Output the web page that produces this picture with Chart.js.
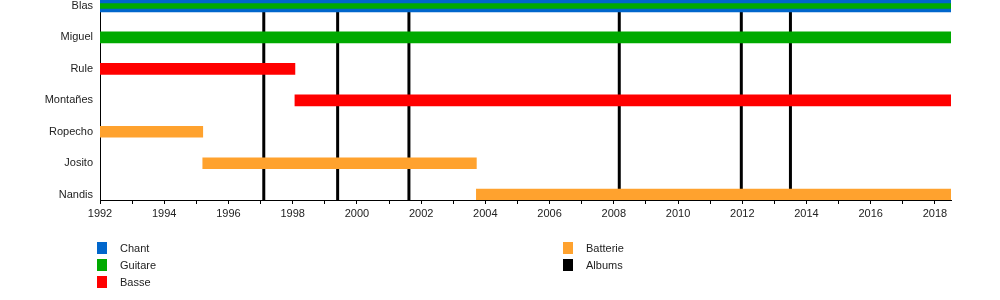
<!DOCTYPE html>
<html>
<head>
<meta charset="utf-8">
<script src="https://cdn.jsdelivr.net/npm/chart.js@4"></script>
<style>
	body { margin: 0; background: #fff; font-family: 'Liberation Sans', Arial, sans-serif; }
	#wrap { position: relative; width: 1000px; height: 300px; }
	.leg { position: absolute; font-size: 11px; color: #222; line-height: 12px; }
	.leg span { display: inline-block; width: 10px; height: 12px; vertical-align: top; margin-right: 13px; }
</style>
</head>
<body>
<div id="wrap">
	<canvas id="timeline" width="1000" height="300"></canvas>
	<div class="leg" style="left:97px;top:242px"><span style="background:#0066cc"></span>Chant</div>
	<div class="leg" style="left:97px;top:259px"><span style="background:#00aa00"></span>Guitare</div>
	<div class="leg" style="left:97px;top:276px"><span style="background:#ff0000"></span>Basse</div>
	<div class="leg" style="left:563px;top:242px"><span style="background:#ffa22e"></span>Batterie</div>
	<div class="leg" style="left:563px;top:259px"><span style="background:#000000"></span>Albums</div>
</div>
<script>
var members = ['Blas', 'Miguel', 'Rule', 'Montañes', 'Ropecho', 'Josito', 'Nandis'];
var years = [1992, 1993, 1994, 1995, 1996, 1997, 1998, 1999, 2000, 2001, 2002, 2003, 2004, 2005,
	2006, 2007, 2008, 2009, 2010, 2011, 2012, 2013, 2014, 2015, 2016, 2017, 2018];
var endYear = 2018.5;

// [member index, start, end]
var chant = [[0, 1992, 2018.5]];
var guitare = [[1, 1992, 2018.5]];
var guitareBlas = [[0, 1992, 2018.5]];
var basse = [[2, 1992, 1998.07], [3, 1998.07, 2018.5]];
var batterie = [[4, 1992, 1995.2], [5, 1995.2, 2003.72], [6, 2003.72, 2018.5]];
var albums = [1997.1, 1999.4, 2001.62, 2008.17, 2011.97, 2013.5];

function toBars(rows) {
	return rows.map(function (r) { return { y: r[0], x: [r[1], r[2]] }; });
}

var albumLines = {
	id: 'albumLines',
	beforeDatasetsDraw: function (chart) {
		var ctx = chart.ctx;
		var area = chart.chartArea;
		var xs = chart.scales.x;
		ctx.save();
		ctx.strokeStyle = '#000';
		ctx.lineWidth = 3;
		albums.forEach(function (a) {
			var px = xs.getPixelForValue(a);
			ctx.beginPath();
			ctx.moveTo(px, area.top);
			ctx.lineTo(px, area.bottom);
			ctx.stroke();
		});
		ctx.restore();
	},
};

var timelineChart = new Chart(document.getElementById('timeline'), {
	type: 'bar',
	data: {
		datasets: [
			// drawn last, sits on top of the Chant bar
			{ label: 'Guitare', data: toBars(guitareBlas), backgroundColor: '#00aa00', barThickness: 5 },
			{ label: 'Chant', data: toBars(chant), backgroundColor: '#0066cc', barThickness: 12 },
			{ label: 'Guitare', data: toBars(guitare), backgroundColor: '#00aa00', barThickness: 11 },
			{ label: 'Basse', data: toBars(basse), backgroundColor: '#ff0000', barThickness: 11 },
			{ label: 'Batterie', data: toBars(batterie), backgroundColor: '#ffa22e', barThickness: 11 },
		],
	},
	options: {
		indexAxis: 'y',
		responsive: false,
		animation: false,
		grouped: false,
		layout: { padding: { top: 0, right: 49, bottom: 70, left: 0 } },
		plugins: {
			legend: { display: false },
			tooltip: { enabled: false },
		},
		scales: {
			x: {
				type: 'linear',
				min: years[0],
				max: endYear,
				afterBuildTicks: function (scale) {
					scale.ticks = years.map(function (y) { return { value: y }; });
				},
				afterFit: function (scale) { scale.height = 30; },
				grid: { drawOnChartArea: false, tickLength: 4, color: '#000' },
				border: { display: true, color: '#000', width: 1 },
				ticks: {
					autoSkip: false,
					maxRotation: 0,
					padding: 3,
					color: '#222',
					font: { family: "'Liberation Sans', Arial", size: 11 },
					callback: function (v) { return v % 2 === 0 ? String(v) : ''; },
				},
			},
			y: {
				type: 'linear',
				reverse: true,
				offset: false,
				min: -0.19,
				max: 6.17,
				afterBuildTicks: function (scale) {
					scale.ticks = members.map(function (m, i) { return { value: i }; });
				},
				afterFit: function (scale) {
					scale.width = 100;
					scale.paddingTop = 0;
					scale.paddingBottom = 0;
				},
				grid: { display: false, tickLength: 0 },
				border: { display: true, color: '#000', width: 1 },
				ticks: {
					autoSkip: false,
					padding: 7,
					color: '#222',
					font: { family: "'Liberation Sans', Arial", size: 11 },
					callback: function (v) { return members[v] || ''; },
				},
			},
		},
	},
	plugins: [albumLines],
});
</script>
</body>
</html>
